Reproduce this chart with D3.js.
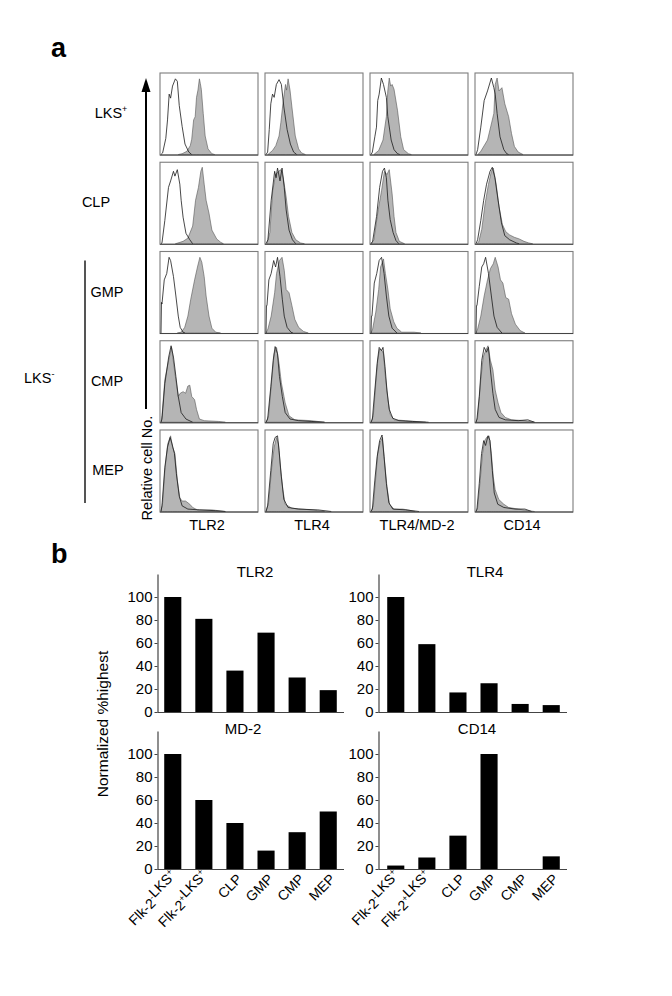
<!DOCTYPE html>
<html><head><meta charset="utf-8">
<script src="https://cdn.jsdelivr.net/npm/d3@7"></script>
<style>
body{margin:0;background:#fff}
svg{display:block}
text{font-family:"Liberation Sans", Arial, Helvetica, sans-serif;fill:#000}
</style>
</head><body>
<svg id="c" width="672" height="996"></svg>
<script>
// ---------------- DATA ----------------
// Panel a: flow cytometry histograms. Rows = populations, columns = markers.
const populations = ["LKS^+", "CLP", "GMP", "CMP", "MEP"];
const markers = ["TLR2", "TLR4", "TLR4/MD-2", "CD14"];
// Each curve: [fluorescence position (% of panel width), relative cell no. (% of panel height)]
// open = isotype control (unfilled line), stained = filled grey
const tlr2Open = [
  [[0,0],[1.7,2],[5,20],[6.8,43],[8.5,75],[10,70],[12,85],[15,94],[17,91],[19,61],[22,35],[25,13],[29,3],[32,0]],
  [[0,0],[1,1],[4,29],[7.8,70],[10,78],[13,90],[14.5,84],[17,92],[19.6,74],[21,54],[23,33],[26,13],[30,5],[33,0]],
  [[0,0],[0.5,38],[1,36],[3.4,66],[6,74],[8.4,94],[10,90],[13,70],[15.5,46],[18,21],[20,7],[23,1],[25,0]],
  [[0,0],[1,4],[4,48],[8,81],[10.5,95],[13,81],[15.5,57],[18,32],[21,12],[26,4],[33,0]],
  [[0,0],[1,7],[4,55],[6.8,80],[9.5,92],[11.5,84],[14,72],[16,47],[19,19],[22,7],[28,3],[40,2],[57,1],[67,0]]
];
const tlr2Stained = [
  [[18,0],[22,1],[27,4],[30.5,11],[32,19],[34,43],[35.6,47],[37,71],[38.5,80],[40,94],[41,88],[42,81],[44,51],[46,23],[49,7],[53,1],[56,0]],
  [[15,0],[23,3],[28,7],[33,22],[36,54],[39,70],[41.5,90],[43,95],[45,74],[47,54],[50,38],[53,17],[58,6],[62,2],[65,0]],
  [[17,0],[21,1],[24.7,7],[28,21],[31,42],[35,66],[38,82],[40.5,94],[42.5,88],[45,70],[47,46],[50,21],[53,6],[57,1],[62,0]],
  [[0,0],[1,8],[4,53],[8,77],[11,93],[14.5,61],[18,32],[20,36],[23,38],[25.6,36],[28,45],[30,46],[32,32],[35,28],[37,16],[40,4],[45,2],[60,1],[67,0]],
  [[0,0],[1.7,11],[4,51],[7,84],[10,94],[12,80],[14.5,72],[17,39],[19.6,17],[22,13],[25.6,13],[30,9],[33,5],[38,2],[53,2],[67,0]]
];
const tlr4Open = [
  [[0,0],[1.7,3],[3.4,31],[5,63],[6.8,75],[8.5,71],[10.8,87],[13.6,93],[16,87],[18.6,59],[22,31],[25.4,13],[28.8,3],[32,0]],
  [[0,0],[2,5],[5.4,54],[9,90],[10.5,82],[12,94],[14.6,78],[16.7,94],[19,70],[21,42],[24,17],[27.5,5],[31,0]],
  [[0,0],[0.5,34],[1,34],[3,66],[5.4,74],[8,90],[10,82],[12,94],[14.6,70],[17,42],[19,21],[22,7],[26,1],[28,0]],
  [[0,0],[1.7,4],[5,44],[7.5,77],[9.5,94],[12,85],[14,57],[17,32],[20,12],[25,4],[34,2],[47,1],[61,0]],
  [[0,0],[1.7,7],[5,51],[7.5,84],[9.5,92],[12,94],[13.6,76],[16,43],[18.6,15],[23,5],[34,3],[54,2],[68,0]]
];
const tlr4Stained = [
  [[2,0],[6.8,5],[10.2,11],[13.6,23],[15.5,40],[17.6,63],[20.3,87],[21.5,80],[23,94],[25,80],[27,59],[30.5,23],[34,7],[37,2],[41,0]],
  [[1,0],[4,14],[7,66],[10,86],[13,90],[15.6,92],[18,82],[21,58],[23.5,34],[27,14],[31,5],[36,1],[40,0]],
  [[0,0],[2,5],[5.4,21],[9,50],[11,74],[14,90],[16.7,94],[19,78],[21,54],[24,50],[27,34],[30,17],[34,7],[39,2],[44,0]],
  [[0,0],[2.7,8],[6,53],[8.5,85],[11,93],[13.6,73],[16,49],[20,24],[24,8],[30,3],[47,2],[61,0]],
  [[0,0],[2.7,11],[6,55],[8.5,80],[11,92],[13,84],[15,55],[17.6,27],[20,9],[27,4],[47,2],[61,0]]
];
const md2Open = [
  [[0,0],[1.4,3],[4,22],[5.7,34],[7,67],[8.5,75],[10.8,95],[13,87],[16,71],[17.5,47],[21,18],[24,6],[27.6,1],[30,0]],
  [[0,0],[1.7,3],[5.8,34],[9,70],[12,90],[14,94],[16,82],[17.6,54],[20,30],[23,14],[26,4],[29,0]],
  [[0,0],[0.5,21],[1,21],[3.4,62],[6,74],[8.5,90],[11,94],[13.6,74],[16,46],[18.6,21],[22,6],[27,0]],
  [[0,0],[1.4,4],[4,40],[6.4,73],[8.5,93],[11,89],[12.5,93],[14.6,69],[16.6,40],[19,16],[22.7,5],[29,2],[43,1],[60,0]],
  [[0,0],[1.4,3],[4,39],[6.4,68],[9,88],[11.5,95],[13.6,68],[16,35],[18.6,11],[22.7,3],[36,2],[50,0]]
];
const md2Stained = [
  [[3,0],[8,5],[12.5,18],[16,47],[17.5,79],[19,95],[20.5,85],[22,87],[24,81],[27.6,55],[31,22],[34,6],[39,1],[42,0]],
  [[0,0],[3,5],[7.5,42],[11,66],[14,90],[16.6,86],[19,92],[22,62],[24,34],[26,14],[29.5,3],[35,0]],
  [[0,0],[1.7,5],[5,26],[8,54],[10,82],[13,92],[15,74],[17.6,54],[20,30],[23.7,14],[27,6],[32,1],[45,1],[52,0]],
  [[0,0],[2.4,8],[5,49],[7,77],[9,91],[11.5,89],[13,85],[15,57],[17.6,28],[20,10],[24,3],[36,2],[57,0]],
  [[0,0],[2.4,7],[5,43],[7,72],[9.5,86],[12,92],[14,64],[16.6,31],[19.3,9],[24,3],[33,3],[38,2],[46,0]]
];
const cd14Open = [
  [[0,0],[1.7,6],[5,34],[8.5,67],[12,79],[16,95],[18.6,83],[20,75],[22,51],[25,22],[29,6],[32,1],[34,0]],
  [[0,0],[1.7,5],[5,29],[8,54],[11,74],[14.6,90],[17,95],[19.7,82],[23,54],[26.5,26],[30,10],[35,5],[42,1],[45,0]],
  [[0,0],[0.5,34],[1,34],[3.4,58],[6,82],[8,86],[10,94],[13,74],[16,46],[18.7,21],[22,7],[27,0]],
  [[0,0],[1,4],[3.4,32],[6,77],[8.5,93],[11,87],[13,93],[15,65],[17.6,36],[20,16],[24,6],[30.5,3],[44,2],[54,3],[61,0]],
  [[0,0],[1,3],[3.4,35],[5.8,72],[8,88],[10,82],[12.5,94],[14.6,88],[17,51],[19,23],[22.7,9],[29,5],[40.7,3],[51,3],[58,0]]
];
const cd14Stained = [
  [[2,0],[5,4],[12,18],[17,43],[18.6,51],[20,87],[22,95],[24,79],[27,83],[30,63],[34,47],[37,26],[40,10],[44,3],[49,0]],
  [[1,0],[3,3],[6,18],[9.5,50],[13,74],[16,90],[18,94],[21,74],[24,46],[27.5,24],[31,15],[35,11],[40,8],[45,6],[50,3],[55,1],[59,0]],
  [[0,0],[1.7,5],[5,21],[8.5,46],[12,66],[15,80],[18,86],[20,94],[23,82],[25.5,66],[28,62],[31,44],[34,42],[37,24],[41,11],[46,3],[51,0]],
  [[0,0],[1.7,6],[5,53],[7.5,81],[10,89],[12.5,95],[15,77],[17.6,65],[20,40],[23,24],[26,12],[30.5,6],[37,3],[51,2],[61,0]],
  [[0,0],[1.7,5],[4.4,39],[6.8,72],[9,88],[11,92],[13.6,94],[16,72],[18,43],[20,27],[23.7,15],[29,9],[34,5],[44,3],[54,1],[61,0]]
];

// Panel b: normalized % highest expression
const categories = ["Flk-2^-LKS^+", "Flk-2^+LKS^+", "CLP", "GMP", "CMP", "MEP"];
const tlr2Values = [100, 81, 36, 69, 30, 19];
const tlr4Values = [100, 59, 17, 25, 7, 6];
const md2Values  = [100, 60, 40, 16, 32, 50];
const cd14Values = [3, 10, 29, 100, 0, 11];
const yTicks = [0, 20, 40, 60, 80, 100];

// ---------------- DRAWING ----------------
const svg = d3.select("#c");

function rich(sel, str, size) {
  // renders "A^+B" with superscripts
  const parts = str.split(/(\^.)/).filter(s => s.length);
  parts.forEach(p => {
    if (p[0] === "^") {
      sel.append("tspan").attr("dy", -size*0.4).attr("font-size", size*0.62).text(p[1]);
      sel.append("tspan").attr("dy", size*0.4).attr("font-size", size).text("");
    } else {
      sel.append("tspan").attr("font-size", size).text(p);
    }
  });
}

// panel labels
svg.append("text").attr("x", 51).attr("y", 57).attr("font-size", 27).attr("font-weight", "bold").text("a");
svg.append("text").attr("x", 51).attr("y", 563).attr("font-size", 27).attr("font-weight", "bold").text("b");

// Panel a grid
const colScale = d3.scaleBand().domain(markers).range([160, 573]).paddingInner(0.0667);
const rowScale = d3.scaleBand().domain(populations).range([73, 512]).paddingInner(0.081);
const openSets = [tlr2Open, tlr4Open, md2Open, cd14Open];
const stainSets = [tlr2Stained, tlr4Stained, md2Stained, cd14Stained];

markers.forEach((m, ci) => {
  populations.forEach((p, ri) => {
    const x0 = colScale(m), y0 = rowScale(p);
    const w = colScale.bandwidth(), h = rowScale.bandwidth();
    const x = d3.scaleLinear().domain([0, 100]).range([x0 + 1, x0 + w - 1]);
    const y = d3.scaleLinear().domain([0, 100]).range([y0 + h - 0.5, y0 + 1]);
    const g = svg.append("g");
    g.append("rect").attr("x", x0).attr("y", y0).attr("width", w).attr("height", h)
      .attr("fill", "#fff").attr("stroke", "#7d7d7d").attr("stroke-width", 1.1);
    const area = d3.area().x(d => x(d[0])).y0(y(0)).y1(d => y(d[1]));
    const line = d3.line().x(d => x(d[0])).y(d => y(d[1]));
    g.append("path").datum(stainSets[ci][ri]).attr("d", area)
      .attr("fill", "#b5b5b5").attr("stroke", "#555").attr("stroke-width", 0.6);
    g.append("path").datum(openSets[ci][ri]).attr("d", line)
      .attr("fill", "none").attr("stroke", "#1a1a1a").attr("stroke-width", 0.8);
    g.append("line").attr("x1", x0).attr("x2", x0 + w).attr("y1", y0 + h).attr("y2", y0 + h)
      .attr("stroke", "#444").attr("stroke-width", 1);
  });
  svg.append("text").attr("x", colScale(m) + colScale.bandwidth()/2 - 2).attr("y", 530)
    .attr("text-anchor", "middle").attr("font-size", 14.5).text(m);
});

// row labels
const rowLabelX = [111, 96, 107, 107, 108];
populations.forEach((p, ri) => {
  const t = svg.append("text").attr("x", rowLabelX[ri]).attr("y", rowScale(p) + rowScale.bandwidth()/2 + 4)
    .attr("text-anchor", "middle");
  rich(t, p, 14.5);
});
// LKS- bracket
svg.append("line").attr("x1", 85).attr("x2", 85).attr("y1", rowScale("GMP") + 9).attr("y2", rowScale("MEP") + rowScale.bandwidth() - 9)
  .attr("stroke", "#555").attr("stroke-width", 2);
const lksm = svg.append("text").attr("x", 24).attr("y", 383);
rich(lksm, "LKS^-", 14.5);

// y arrow
svg.append("line").attr("x1", 146).attr("x2", 146).attr("y1", 409).attr("y2", 88)
  .attr("stroke", "#000").attr("stroke-width", 2);
svg.append("path").attr("d", "M146,78 L141.5,92 L150.5,92 Z").attr("fill", "#000");
svg.append("text").attr("transform", "translate(152,468) rotate(-90)")
  .attr("text-anchor", "middle").attr("font-size", 14.5).text("Relative cell No.");

// Panel b bar charts
const charts = [
  {title: "TLR2", values: tlr2Values, axisX: 157.5, range: [158, 343], yZero: 712, tx: 255, labels: false},
  {title: "TLR4", values: tlr4Values, axisX: 378.5, range: [381, 566], yZero: 712, tx: 485, labels: false},
  {title: "MD-2", values: md2Values, axisX: 157.5, range: [158, 343], yZero: 869, tx: 243, labels: true},
  {title: "CD14", values: cd14Values, axisX: 378.5, range: [381, 566], yZero: 869, tx: 477, labels: true}
];

charts.forEach(c => {
  const g = svg.append("g");
  const y = d3.scaleLinear().domain([0, 120]).range([c.yZero, c.yZero - 138]);
  const x = d3.scaleBand().domain(categories).range(c.range).paddingInner(0.45).paddingOuter(0.2);
  g.selectAll("rect.bar").data(c.values).join("rect").attr("class", "bar")
    .attr("x", (d, i) => x(categories[i])).attr("width", x.bandwidth())
    .attr("y", d => y(d)).attr("height", d => y(0) - y(d)).attr("fill", "#000");
  // x baseline
  g.append("line").attr("x1", c.axisX).attr("x2", c.range[1] + 1).attr("y1", y(0) + 0.5).attr("y2", y(0) + 0.5)
    .attr("stroke", "#444").attr("stroke-width", 1.2);
  const ax = g.append("g").attr("transform", `translate(${c.axisX},0)`)
    .call(d3.axisLeft(y).tickValues(yTicks).tickSize(3).tickSizeOuter(0).tickPadding(2));
  ax.attr("font-family", null).attr("font-size", null);
  ax.select(".domain").attr("stroke", "#444").attr("stroke-width", 1.2);
  ax.selectAll(".tick line").attr("stroke", "#444");
  ax.selectAll(".tick text").attr("font-size", 15).attr("fill", "#000");
  g.append("text").attr("x", c.tx).attr("y", c.yZero - 135).attr("text-anchor", "middle")
    .attr("font-size", 15).text(c.title);
  if (c.labels) {
    categories.forEach(cat => {
      const cx = x(cat) + x.bandwidth()/2;
      const t = g.append("text").attr("transform", `translate(${cx + 8},${c.yZero + 11}) rotate(-45)`)
        .attr("text-anchor", "end");
      rich(t, cat, 14);
    });
  }
});

svg.append("text").attr("transform", "translate(108,724) rotate(-90)")
  .attr("text-anchor", "middle").attr("font-size", 15.5).text("Normalized %highest");
</script>
</body></html>
